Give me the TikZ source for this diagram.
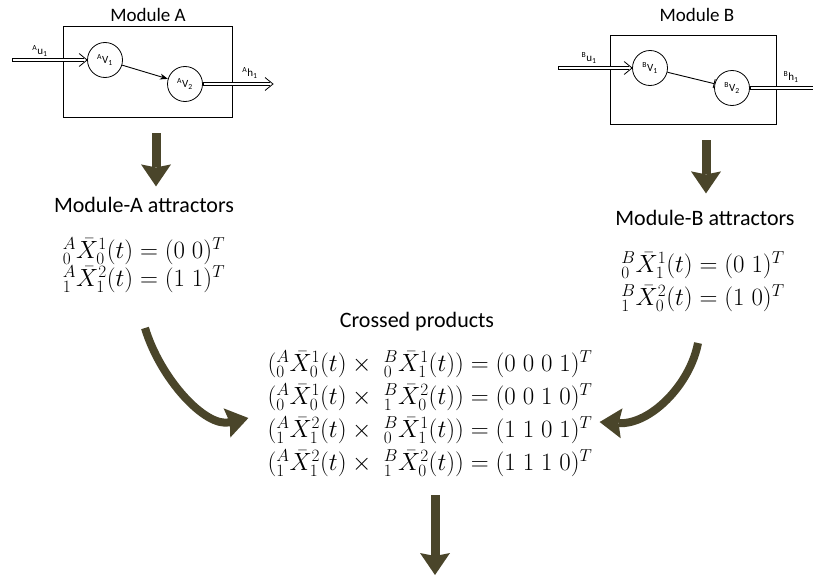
\documentclass[tikz,border=0pt]{standalone}
\usepackage[no-math]{fontspec}
\setmainfont{Carlito}
\usepackage{amsmath}
\usetikzlibrary{arrows.meta, positioning, calc}
\definecolor{olivearrow}{RGB}{74,69,42}
\setlength{\lineskiplimit}{-20pt}
\tikzset{
  modbox/.style   = {draw, line width=0.8pt, inner sep=0pt},
  var/.style      = {circle, draw, line width=0.8pt, minimum size=35pt, inner sep=0pt,
                     font=\fontsize{11}{12}\selectfont},
  title/.style    = {font=\fontsize{19}{22}\selectfont},
  head/.style     = {font=\fontsize{22}{26}\selectfont},
  sig/.style      = {font=\fontsize{11}{12}\selectfont},
  eqn/.style      = {align=left, inner sep=0pt},
  dbl/.style      = {line width=4.4pt,
                     postaction={draw=white, line width=2.8pt, shorten <=0.8pt}},
  chevron/.style  = {line width=0.8pt, line join=miter},
  act/.style      = {-{Stealth[length=8pt,width=6pt]}, line width=0.9pt},
  inh/.style      = {-{Bar[width=9pt]}, line width=0.9pt},
  bigarrow/.style = {-{Stealth[length=22pt,width=30pt,inset=3pt,line width=0pt]},
                     line width=9pt, draw=olivearrow},
}

\begin{document}
\begin{tikzpicture}[x=1pt, y=-1pt]
  \useasboundingbox (0,0) rectangle (813,578);

  % module A
  \node[title] (titleA) at (148,15) {Module A};
  \node[modbox, minimum width=169pt, minimum height=91pt] (boxA) at (147.5,71.5) {};
  \node[var] (av1) at (105,60) {\textsuperscript{A}V\textsubscript{1}};
  \node[var] (av2) at (185,84) {\textsuperscript{A}V\textsubscript{2}};
  \coordinate (inA) at (12,60);
  \coordinate (outA) at (273,84);
  \draw[dbl] (inA) -- ([xshift=-3pt]av1.west);
  \draw[chevron] ([shift={(-8,-6.5)}]av1.west) -- (av1.west) -- ([shift={(-8,6.5)}]av1.west);
  \draw[dbl] (av2.east) -- ([xshift=-3pt]outA);
  \draw[chevron] ([shift={(-8,-6.5)}]outA) -- (outA) -- ([shift={(-8,6.5)}]outA);
  \draw[act] (av1) -- (av2);
  \node[sig] (uA) at (40,51) {\textsuperscript{A}u\textsubscript{1}};
  \node[sig] (hA) at (250,73) {\textsuperscript{A}h\textsubscript{1}};

  % module B
  \node[title] (titleB) at (697,15) {Module B};
  \node[modbox, minimum width=166pt, minimum height=89pt] (boxB) at (693,79.5) {};
  \node[var] (bv1) at (650,68) {\textsuperscript{B}V\textsubscript{1}};
  \node[var] (bv2) at (732,88) {\textsuperscript{B}V\textsubscript{2}};
  \coordinate (inB) at (558,68);
  \coordinate (outB) at (813,88);
  \draw[dbl] (inB) -- ([xshift=-3pt]bv1.west);
  \draw[chevron] ([shift={(-8,-6.5)}]bv1.west) -- (bv1.west) -- ([shift={(-8,6.5)}]bv1.west);
  \draw[dbl] (bv2.east) -- (outB);
  \draw[inh] (bv1) -- (bv2);
  \node[sig] (uB) at (589,58) {\textsuperscript{B}u\textsubscript{1}};
  \node[sig] (hB) at (791,77) {\textsuperscript{B}h\textsubscript{1}};

  % attractors
  \node[head] (attA) at (144,205) {Module-A attractors};
  \node[eqn, font=\fontsize{26}{28}\selectfont] (eqA) at (144,265)
    {${}^{A}_{0}\bar{X}^{1}_{0}(t) = (0\;0)^T$\\
     ${}^{A}_{1}\bar{X}^{2}_{1}(t) = (1\;1)^T$};
  \node[head] (attB) at (705,218) {Module-B attractors};
  \node[eqn, font=\fontsize{26}{33}\selectfont] (eqB) at (703,282)
    {${}^{B}_{0}\bar{X}^{1}_{1}(t) = (0\;1)^T$\\
     ${}^{B}_{1}\bar{X}^{2}_{0}(t) = (1\;0)^T$};

  % products
  \node[head] (prodhead) at (417,322) {Crossed products};
  \node[eqn, font=\fontsize{26}{33}\selectfont] (prod) at (430,414)
    {$({}^{A}_{0}\bar{X}^{1}_{0}(t)\times\;{}^{B}_{0}\bar{X}^{1}_{1}(t)) = (0\;0\;0\;1)^T$\\
     $({}^{A}_{0}\bar{X}^{1}_{0}(t)\times\;{}^{B}_{1}\bar{X}^{2}_{0}(t)) = (0\;0\;1\;0)^T$\\
     $({}^{A}_{1}\bar{X}^{2}_{1}(t)\times\;{}^{B}_{0}\bar{X}^{1}_{1}(t)) = (1\;1\;0\;1)^T$\\
     $({}^{A}_{1}\bar{X}^{2}_{1}(t)\times\;{}^{B}_{1}\bar{X}^{2}_{0}(t)) = (1\;1\;1\;0)^T$};

  % big arrows
  \draw[bigarrow] (boxA.south) ++(8.5,16) -- ++(0,53);
  \draw[bigarrow] (boxB.south) ++(13,16) -- ++(0,53);
  \coordinate (cA) at (145,328);
  \coordinate (cB) at (698,343);
  \draw[bigarrow, line width=8pt] (cA) .. controls (160,378) and (205,428) .. ([shift={(-19,4)}]prod.west);
  \draw[bigarrow, line width=8pt] (cB) .. controls (690,385) and (650,425) .. ([shift={(7,8)}]prod.east);
  \coordinate (downTop) at (435,495);
  \coordinate (downTip) at (435,575);
  \draw[bigarrow] (downTop) -- (downTip);
\end{tikzpicture}
\end{document}
